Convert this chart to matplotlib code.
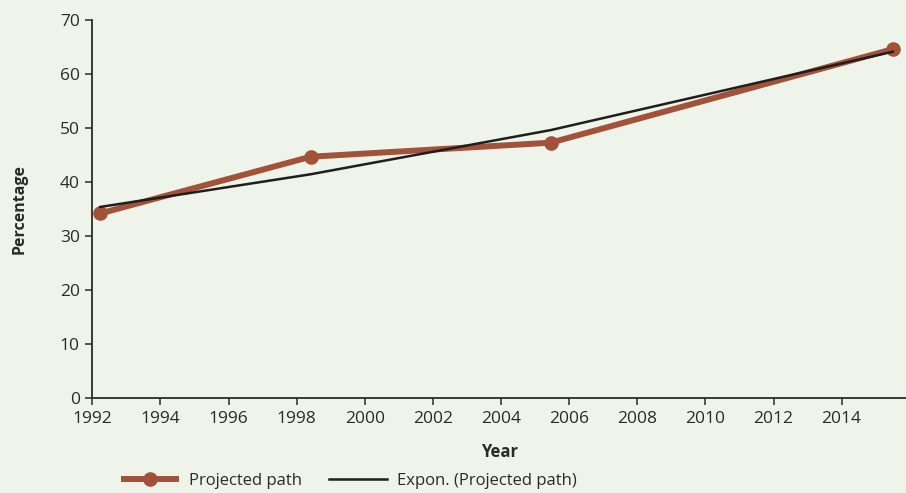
import numpy as np
import matplotlib
matplotlib.use("Agg")
import matplotlib.pyplot as plt

plt.rcParams['font.family'] = ['Open Sans', 'DejaVu Sans']

# Projected path (year, percentage)
years = [1992.23, 1998.41, 2005.46, 2015.5]
percent = [34.2, 44.7, 47.3, 64.6]

x_ticks = list(range(1992, 2015, 2))
y_ticks = list(range(0, 71, 10))

BG = '#eef4ea'
RED = '#a3523a'
INK = '#2a2a2a'

# Exponential trend fitted to the projected path
xa = np.array(years)
ya = np.array(percent)
b, log_a = np.polyfit(xa - xa[0], np.log(ya), 1)
trend = np.exp(log_a + b * (xa - xa[0]))

fig = plt.figure(figsize=(9.06, 4.93), dpi=100, facecolor=BG)
ax = fig.add_axes([92.3 / 906, 1 - 398.3 / 493, 1 - 92.3 / 906, (398.3 - 20) / 493])
ax.set_facecolor(BG)

ax.plot(years, percent, color=RED, lw=4.3, marker='o', ms=9.5,
        solid_capstyle='butt', label='Projected path', zorder=3)
ax.plot(years, trend, color='#1e1e1e', lw=1.8, label='Expon. (Projected path)', zorder=4)

ax.set_xlim(1992, 1992 + (906 - 92.3) / 34.06)
ax.set_ylim(0, 70)
ax.set_xticks(x_ticks)
ax.set_yticks(y_ticks)

for side in ('top', 'right'):
    ax.spines[side].set_visible(False)
for side in ('left', 'bottom'):
    ax.spines[side].set_color(INK)
    ax.spines[side].set_linewidth(1.3)

ax.tick_params(axis='both', direction='out', length=5, width=1.1, color=INK,
               labelsize=12.5, labelcolor=INK)
ax.tick_params(axis='y', pad=4)
ax.tick_params(axis='x', pad=4)

ax.set_xlabel('Year', fontsize=12, fontweight='bold', color=INK, labelpad=12)
ax.set_ylabel('Percentage', fontsize=11.5, fontweight='bold', color=INK, labelpad=23)

handles, labels = ax.get_legend_handles_labels()
fig.legend(handles, labels, loc='center left',
           bbox_to_anchor=(121 / 906, 1 - 481 / 493), ncol=2, frameon=False,
           fontsize=12, handlelength=3.5, handletextpad=0.6, columnspacing=1.6,
           borderpad=0, borderaxespad=0, labelcolor=INK)

fig.savefig('out.png', dpi=100, facecolor=BG)
